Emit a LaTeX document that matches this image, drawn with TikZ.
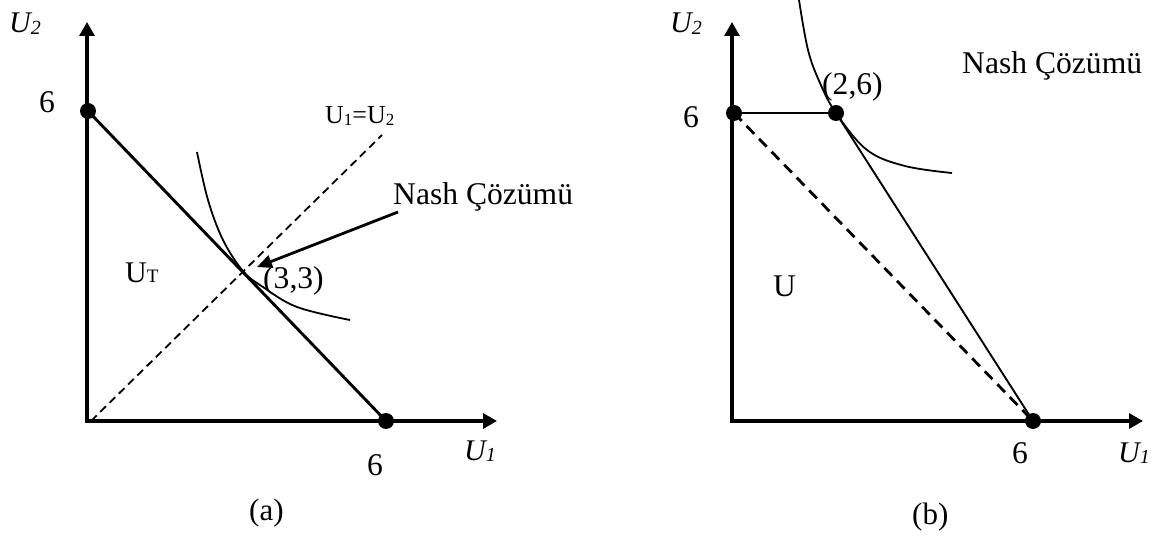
\documentclass[tikz,border=0pt]{standalone}
\usepackage{fontspec}
\setmainfont{Liberation Serif}
\usetikzlibrary{arrows.meta}
\newcommand{\mainsz}{\fontsize{31.6}{36}\selectfont}
\newcommand{\axlab}[1]{{\fontsize{30}{34}\selectfont\itshape U\raisebox{-1.5pt}{\fontsize{20}{22}\selectfont #1}}}
\begin{document}
\begin{tikzpicture}[x=1pt,y=-1pt,
  lbl/.style={inner sep=0pt, anchor=base west, font=\mainsz},
  axisline/.style={line width=3.2pt, {Triangle[length=14pt,width=15pt]}-{Triangle[length=14pt,width=15pt]}},
  dot/.style={circle, fill=black, inner sep=0pt, minimum size=16pt},
  budget/.style={line width=2.9pt},
  thinline/.style={line width=1.9pt},
  curve/.style={line width=1.8pt},
  arrowline/.style={line width=2.8pt, -{Triangle[length=15pt,width=13pt]}}]
\useasboundingbox (0,0) rectangle (1168,537);

% ---------- panel (a) ----------
\coordinate (Oa) at (87,421);
\coordinate (Ya) at (87,22);
\coordinate (Xa) at (497,421);
\draw[axisline] (Ya) -- (Oa) -- (Xa);
\node[dot] (ya6) at (88,111) {};
\node[dot] (xa6) at (386,421) {};
\draw[budget] (ya6.center) -- (xa6.center);
\coordinate (da0) at (91,421);
\coordinate (da1) at (382,135);
\draw[line width=1.8pt, dash pattern=on 8pt off 5pt] (da0) -- (da1);
\draw[curve] plot[smooth, tension=0.6] coordinates {(197,152) (208,200) (223,240) (243,271) (263,287) (297,307) (350,320)};
\node[lbl] (nasha) at (393,205) {Nash Çözümü};
\coordinate (nashaStart) at (398,212);
\coordinate (nashaTip) at (257,267);
\draw[arrowline] (nashaStart) -- (nashaTip);
\node[lbl] (p33) at (263,289) {(3,3)};
\node[lbl, font=\fontsize{26}{30}\selectfont] (eqlab) at (325,124)
  {U\raisebox{-1.5pt}{\fontsize{17}{19}\selectfont 1}=U\raisebox{-1.5pt}{\fontsize{17}{19}\selectfont 2}};
\node[lbl, font=\fontsize{30}{34}\selectfont] (UT) at (125,283) {U{\fontsize{19}{21}\selectfont T}};
\node[lbl] (sixya) at (39,113) {6};
\node[lbl] (sixxa) at (367,475) {6};
\node[lbl, font=\relax] (U2a) at (9,33) {\axlab{2}};
\node[lbl, font=\relax] (U1a) at (464,460) {\axlab{1}};
\node[lbl, font=\fontsize{31}{36}\selectfont] (capa) at (249,520) {(a)};

% ---------- panel (b) ----------
\coordinate (Ob) at (732,421);
\coordinate (Yb) at (732,22);
\coordinate (Xb) at (1143,421);
\draw[axisline] (Yb) -- (Ob) -- (Xb);
\node[dot] (yb6) at (734,113) {};
\node[dot] (p26) at (836,113) {};
\node[dot] (xb6) at (1033,421) {};
\draw[budget] (yb6.center) -- (p26.center);
\draw[thinline] (p26.center) -- (xb6.center);
\draw[line width=2.8pt, dash pattern=on 11pt off 7pt] (yb6.center) -- (xb6.center);
\draw[curve] plot[smooth, tension=0.6] coordinates {(799,0) (808,50) (820,83) (836,113) (867,150) (905,166) (952,173)};
\node[lbl] (nashb) at (962,74) {Nash Çözümü};
\node[lbl] (p26lab) at (822,95) {(2,6)};
\node[lbl] (Ulab) at (773,297) {U};
\node[lbl] (sixyb) at (683,128) {6};
\node[lbl] (sixxb) at (1012,463) {6};
\node[lbl, font=\relax] (U2b) at (670,33) {\axlab{2}};
\node[lbl, font=\relax] (U1b) at (1118,462) {\axlab{1}};
\node[lbl, font=\fontsize{31}{36}\selectfont] (capb) at (912,524) {(b)};
\end{tikzpicture}
\end{document}
